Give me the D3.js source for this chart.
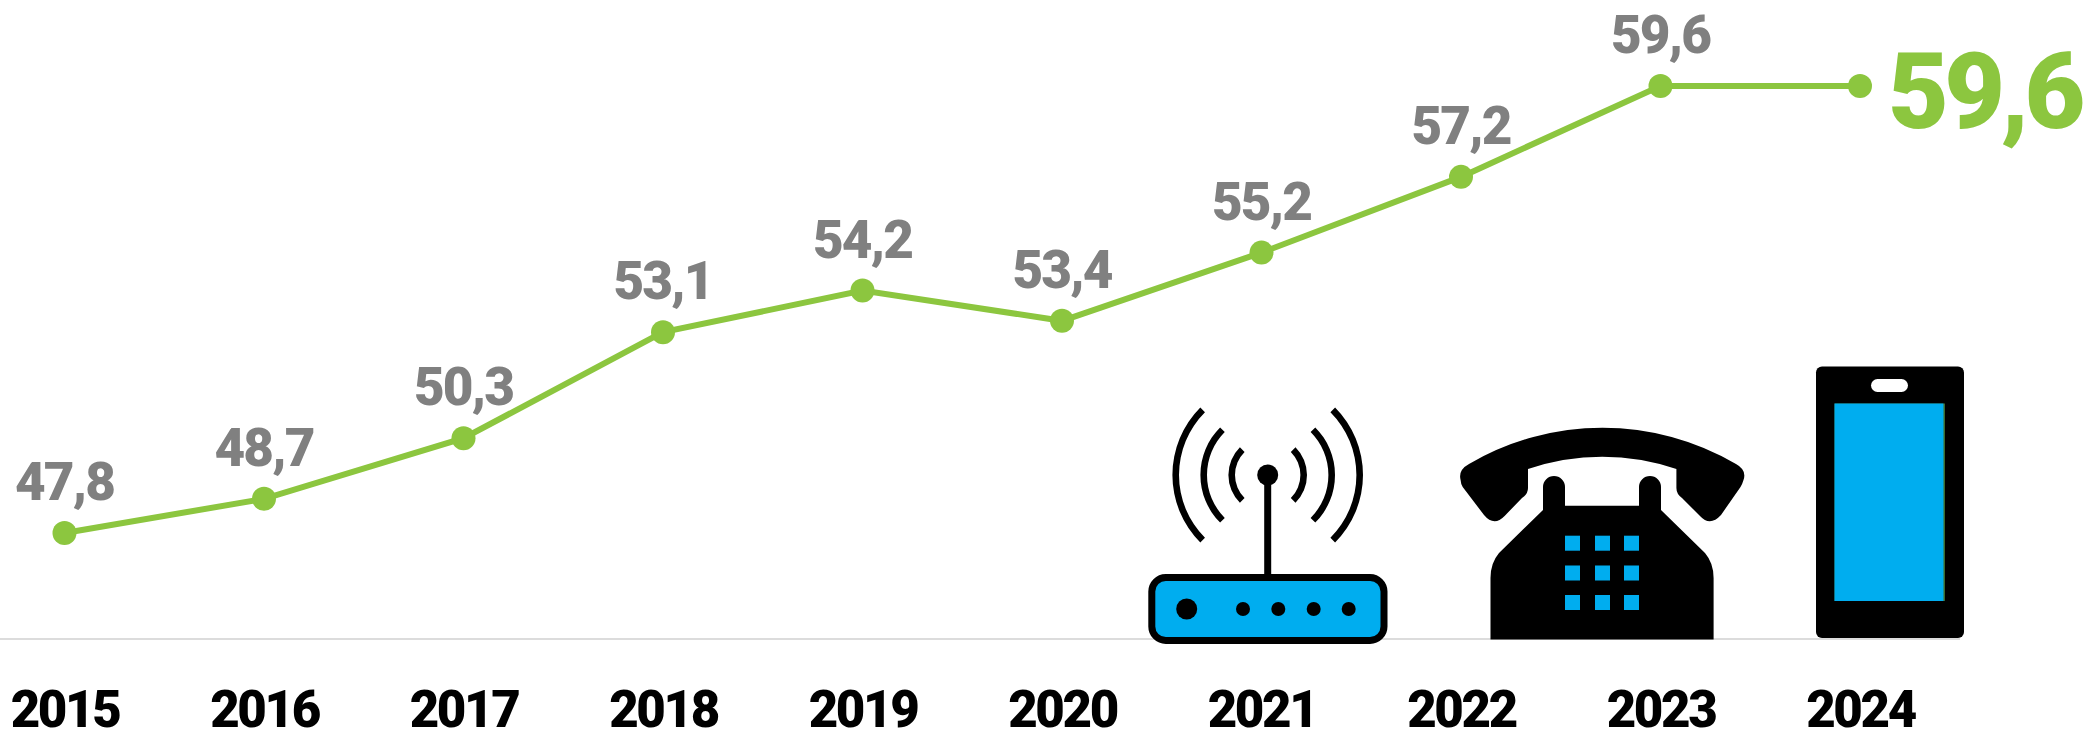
<!DOCTYPE html>
<html><head><meta charset="utf-8">
<script src="https://cdnjs.cloudflare.com/ajax/libs/d3/7.8.5/d3.min.js"></script>
<style>
html,body{margin:0;padding:0;background:#fff;overflow:hidden}
svg{display:block}
text{font-family:Roboto,sans-serif;font-weight:900}
</style></head><body>
<svg id="c" width="2090" height="731"></svg>
<script>
const years=[2015,2016,2017,2018,2019,2020,2021,2022,2023,2024];
const values=[47.8,48.7,50.3,53.1,54.2,53.4,55.2,57.2,59.6,59.6];
const GREEN="#8cc63f",GRAY="#808080",BLUE="#00adef";

const svg=d3.select("#c");
const x=d3.scaleLinear().domain([2015,2024]).range([64.5,1860]);
const y=d3.scaleLinear().domain([45,60]).range([639,70.8]);
const fmt=v=>d3.format(".1f")(v).replace(".",",");

// baseline
svg.append("line").attr("x1",0).attr("x2",1960).attr("y1",y(45)).attr("y2",y(45))
  .attr("stroke","#dcdcdc").attr("stroke-width",2);

// year axis
const axis=d3.axisBottom(x).tickValues(years).tickFormat(d3.format("d")).tickSize(0).tickPadding(0);
const ax=svg.append("g").attr("transform","translate(0,690)").call(axis);
ax.select(".domain").remove();
ax.selectAll("text").attr("dy",0).attr("y",37).style("font-size","51px").style("font-weight",900)
  .style("font-family","Roboto,sans-serif").attr("fill","#000").style("letter-spacing","-2.4px");

// line + points
svg.append("path").datum(years.map((d,i)=>[d,values[i]]))
  .attr("fill","none").attr("stroke",GREEN).attr("stroke-width",6)
  .attr("d",d3.line().x(d=>x(d[0])).y(d=>y(d[1])));
svg.selectAll("circle.pt").data(years).join("circle").attr("class","pt")
  .attr("cx",d=>x(d)).attr("cy",(d,i)=>y(values[i])).attr("r",12).attr("fill",GREEN);

// value labels (the last point is labelled large at its right)
svg.selectAll("text.val").data(years.slice(0,-1)).join("text").attr("class","val")
  .attr("x",d=>x(d)).attr("y",(d,i)=>y(values[i])-33).attr("text-anchor","middle")
  .attr("fill",GRAY).style("font-size","53px").style("letter-spacing","-1.8px")
  .text((d,i)=>fmt(values[i]));
svg.append("text").attr("x",1888).attr("y",128).attr("fill",GREEN)
  .style("font-size","105px").style("letter-spacing","-4.5px")
  .text(fmt(values[values.length-1]));

// router icon
const router=svg.append("g");
router.append("rect").attr("x",1151.8).attr("y",577.5).attr("width",232.2).attr("height",63)
  .attr("rx",14).attr("fill",BLUE).attr("stroke","#000").attr("stroke-width",7);
router.append("line").attr("x1",1267.7).attr("x2",1267.7).attr("y1",475).attr("y2",575)
  .attr("stroke","#000").attr("stroke-width",7);
router.append("circle").attr("cx",1267.7).attr("cy",475).attr("r",10.5);
router.append("circle").attr("cx",1186.7).attr("cy",609).attr("r",10.5);
[1243,1278.3,1313.7,1348.7].forEach(cx=>router.append("circle").attr("cx",cx).attr("cy",609).attr("r",7));
[92,64,36].forEach(r=>{
  [0,Math.PI].forEach(rot=>{
    router.append("path").attr("transform","translate(1267.7,475)")
      .attr("d",d3.arc().innerRadius(r-3.3).outerRadius(r+3.3)
        .startAngle(rot+Math.PI/4).endAngle(rot+3*Math.PI/4)());
  });
});

// telephone icon
const phone=svg.append("g");
phone.append("path").attr("d",
 "M1469,464 A264,264 0 0 1 1736,464 Q1747,470 1743.5,480 Q1742,485 1740.5,487 L1721,515 Q1710,527 1700,516 L1682,498 Q1676.4,494 1676.4,488 L1676.4,469 A230,230 0 0 0 1528,469 L1528,488 Q1528,494 1522,498 L1504.6,516 Q1494,527 1484,515 L1462.7,487 Q1461,485 1460.6,480 Q1458,470 1469,464 Z");
phone.append("path").attr("d",
 "M1543,510 L1543,487 A11,11 0 0 1 1565,487 L1565,505.7 L1639,505.7 L1639,487 A11,11 0 0 1 1661,487 L1661,510 L1705,553 Q1713.6,563 1713.6,578 L1713.6,639.5 L1490.5,639.5 L1490.5,578 Q1490.5,563 1499,553 Z");
[1565,1595,1624].forEach(kx=>[535.7,565.5,595].forEach(ky=>
  phone.append("rect").attr("x",kx).attr("y",ky).attr("width",15).attr("height",15).attr("fill",BLUE)));

// smartphone icon
const mob=svg.append("g");
mob.append("rect").attr("x",1816).attr("y",366.5).attr("width",148).attr("height",271.5).attr("rx",6);
mob.append("rect").attr("x",1871).attr("y",379).attr("width",37).attr("height",13).attr("rx",6.5).attr("fill","#fff");
mob.append("rect").attr("x",1834.5).attr("y",403.5).attr("width",110.5).attr("height",197.5).attr("fill","#3d6b2e");
mob.append("rect").attr("x",1834.5).attr("y",403.5).attr("width",109).attr("height",197.5).attr("fill",BLUE);
</script>
</body></html>
